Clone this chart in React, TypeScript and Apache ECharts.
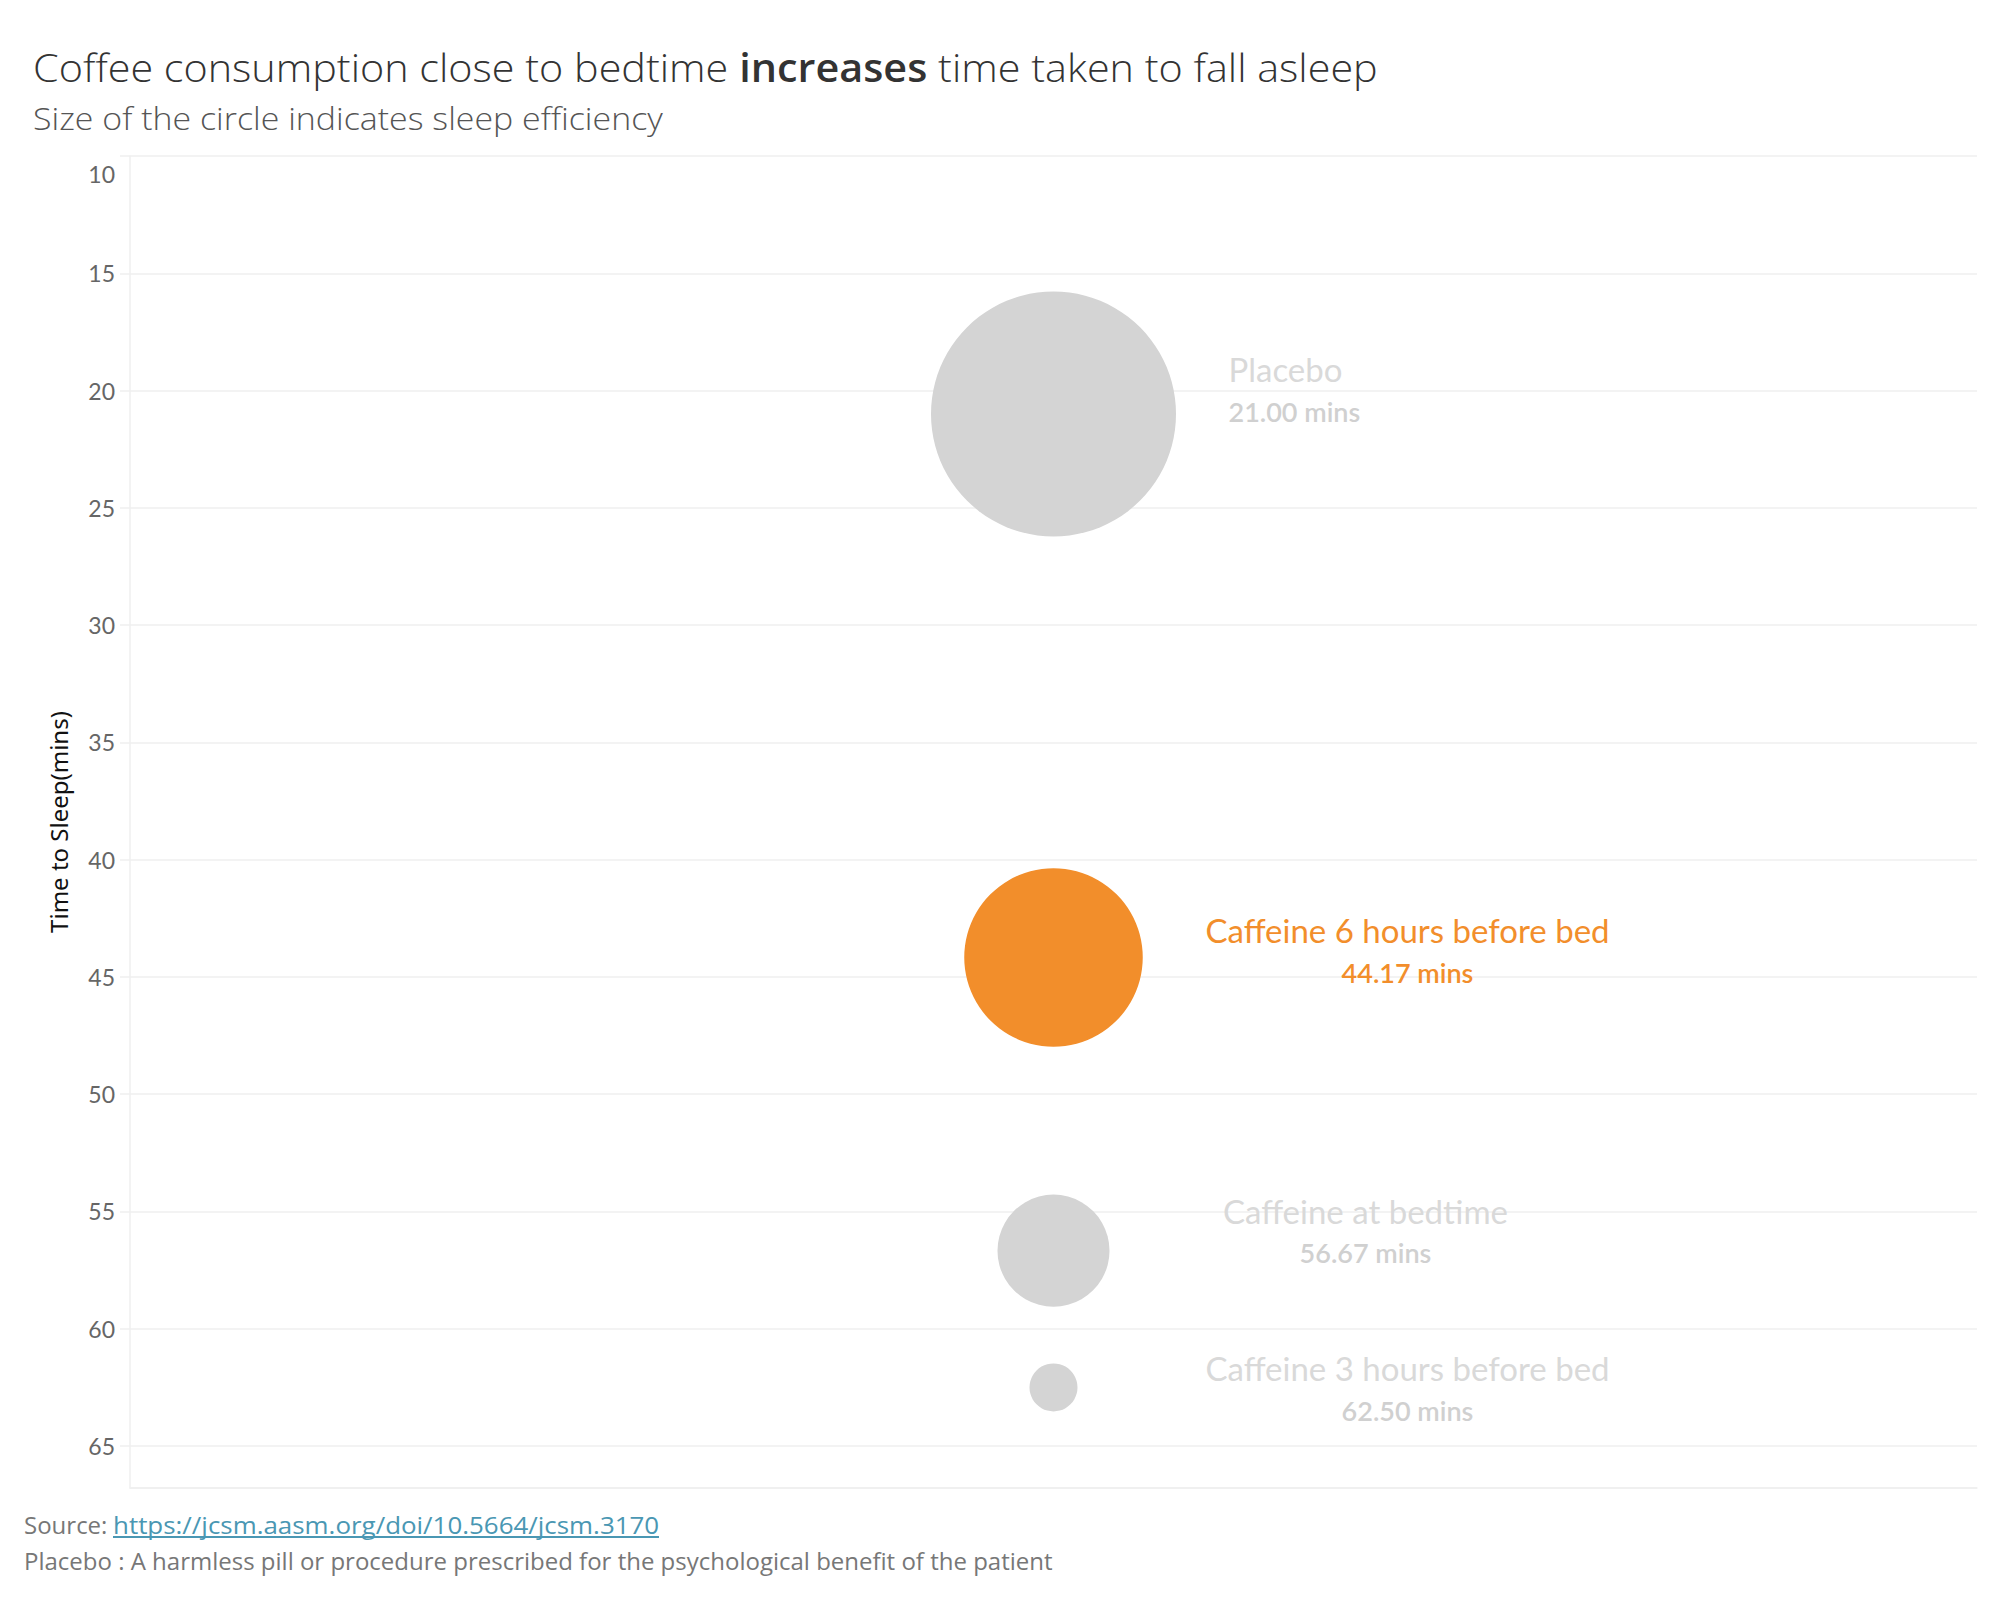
import React, { useEffect, useRef } from "react";
import * as echarts from "echarts";

const categories = [
  "Placebo",
  "Caffeine 6 hours before bed",
  "Caffeine at bedtime",
  "Caffeine 3 hours before bed",
];
const timeToSleep = [21.0, 44.17, 56.67, 62.5];
const sleepEfficiency = [84.5, 81.8, 79.1, 76.5];
const highlighted = "Caffeine 6 hours before bed";
const yMin = 10;
const yMax = 66.79;
const yInterval = 5;

const titleParts = ["Coffee consumption close to bedtime ", "increases", " time taken to fall asleep"];
const subtitle = "Size of the circle indicates sleep efficiency";
const sourceLabel = "Source:";
const sourceUrl = "https://jcsm.aasm.org/doi/10.5664/jcsm.3170";
const footnote = "Placebo : A harmless pill or procedure prescribed for the psychological benefit of the patient";
const yAxisName = "Time to Sleep(mins)";

const ORANGE = "#f28e2b";
const GRAY = "#d4d4d4";
const GRAY_TEXT = "#d9d9d9";
const GRID = "#efefef";
const LINK = "#4a97b3";
const FONT = "Lato";
const FONT2 = "Open Sans";

// label layout (block offset from circle centre)
const labelLayout: Record<string, { dx: number; dy: number; align: string }> = {
  "Placebo": { dx: 175, dy: -24, align: "left" },
  "Caffeine 6 hours before bed": { dx: 354, dy: -6, align: "center" },
  "Caffeine at bedtime": { dx: 312, dy: -19, align: "center" },
  "Caffeine 3 hours before bed": { dx: 354, dy: 2, align: "center" },
};

export default function App() {
  const ref = useRef<HTMLDivElement>(null);
  useEffect(() => {
    if (!ref.current) return;
    const chart = echarts.init(ref.current, undefined, { renderer: "svg" });
    const data = categories.map((c, i) => {
      const hl = c === highlighted;
      const col = hl ? ORANGE : GRAY;
      const tcol = hl ? ORANGE : GRAY_TEXT;
      const lay = labelLayout[c];
      return {
        name: c,
        value: [0, timeToSleep[i], sleepEfficiency[i]],
        itemStyle: { color: col, opacity: 1 },
        label: {
          show: true,
          position: "inside",
          offset: [lay.dx, lay.dy],
          align: lay.align,
          verticalAlign: "middle",
          formatter: (p: any) => `{n|${p.name}}\n{v|${p.value[1].toFixed(2)} mins}`,
          rich: {
            n: { fontFamily: FONT, fontSize: 33, color: tcol, lineHeight: 42, align: lay.align },
            v: { fontFamily: FONT, fontSize: 27, fontWeight: 600, color: hl ? ORANGE : "#d0d0d0", lineHeight: 42, align: lay.align },
          },
        },
      };
    });

    chart.setOption({
      animation: false,
      backgroundColor: "#ffffff",
      grid: { left: 130, right: 21, top: 156, bottom: 110, containLabel: false },
      xAxis: {
        type: "category",
        data: [""],
        boundaryGap: true,
        axisLine: { show: true, onZero: false, lineStyle: { color: GRID, width: 1.5 } },
        axisTick: { show: false },
        axisLabel: { show: false },
        splitLine: { show: false },
      },
      yAxis: {
        type: "value",
        inverse: true,
        min: yMin,
        max: yMax,
        interval: yInterval,
        name: yAxisName,
        nameLocation: "middle",
        nameGap: 60,
        nameRotate: 90,
        nameTextStyle: { fontFamily: "Noto Sans", fontSize: 24, color: "#111" },
        axisLine: { show: true, lineStyle: { color: GRID, width: 1.5 } },
        axisTick: { show: true, length: 10, lineStyle: { color: GRID, width: 1.5 } },
        axisLabel: {
          margin: 15,
          color: "#666",
          fontFamily: FONT,
          fontSize: 23,
          showMaxLabel: false,
          formatter: (v: number) => (v === yMin ? `{t|${v}}` : v % 5 === 0 ? `${v}` : ""),
          rich: { t: { color: "#666", fontFamily: FONT, fontSize: 23, padding: [36, 0, 0, 0] } },
        },
        splitLine: { show: true, lineStyle: { color: GRID, width: 1.5 } },
      },
      visualMap: {
        type: "continuous",
        show: false,
        dimension: 2,
        seriesIndex: 0,
        min: Math.min(...sleepEfficiency),
        max: Math.max(...sleepEfficiency),
        inRange: { symbolSize: [48, 245] },
      },
      series: [
        {
          type: "scatter",
          symbol: "circle",
          data,
          emphasis: { disabled: true },
          z: 3,
        },
      ],
      graphic: [
        {
          type: "text",
          x: 33,
          y: 67,
          scaleX: 1.06,
          style: {
            text: `{a|${titleParts[0]}}{b|${titleParts[1]}}{a|${titleParts[2]}}`,
            verticalAlign: "middle",
            align: "left",
            rich: {
              a: { fontFamily: FONT2, fontSize: 39, fill: "#333", fontWeight: 300 },
              b: { fontFamily: FONT2, fontSize: 39, fill: "#333", fontWeight: 600 },
            },
          },
        },
        {
          type: "text",
          x: 33,
          y: 118,
          scaleX: 1.06,
          style: { text: subtitle, fontFamily: FONT2, fontSize: 32, fill: "#555", fontWeight: 300, verticalAlign: "middle", align: "left" },
        },
        {
          type: "text",
          x: 24,
          y: 1524,
          style: { text: sourceLabel, fontFamily: FONT2, fontSize: 24, fill: "#777", verticalAlign: "middle", align: "left" },
        },
        {
          type: "text",
          x: 113,
          y: 1524,
          scaleX: 1.08,
          style: { text: sourceUrl, fontFamily: FONT2, fontSize: 24, fill: LINK, verticalAlign: "middle", align: "left" },
        },
        {
          type: "line",
          shape: { x1: 113, y1: 1537, x2: 659, y2: 1537 },
          style: { stroke: LINK, lineWidth: 2 },
        },
        {
          type: "text",
          x: 24,
          y: 1560,
          style: { text: footnote, fontFamily: FONT2, fontSize: 24, fill: "#777", verticalAlign: "middle", align: "left" },
        },
      ],
    });
    return () => chart.dispose();
  }, []);
  return (
    <div
      ref={ref}
      style={{ position: "fixed", left: 0, top: 0, width: 1998, height: 1598, background: "#fff" }}
    />
  );
}
